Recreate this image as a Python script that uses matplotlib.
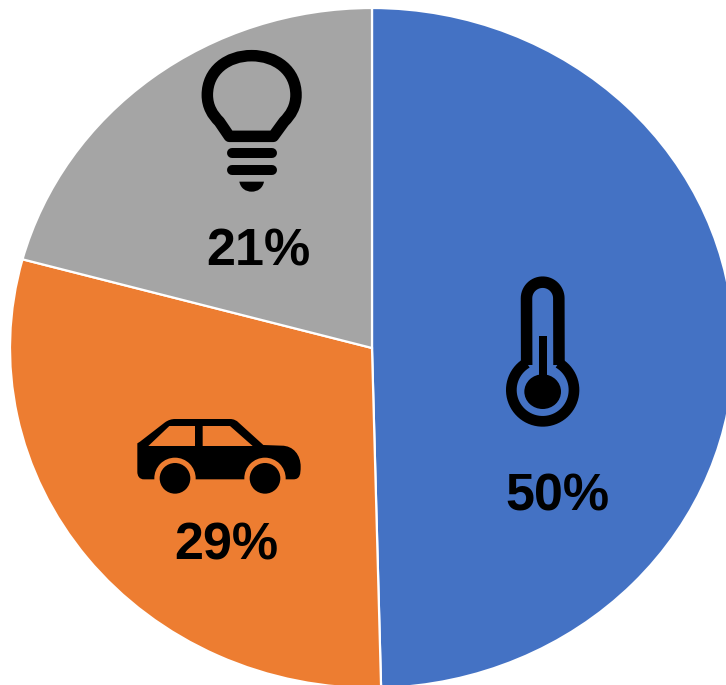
import numpy as np
import matplotlib
matplotlib.use('Agg')
import matplotlib.pyplot as plt
from matplotlib.patches import Circle, Ellipse, PathPatch, Polygon, Rectangle
from matplotlib.path import Path

shares = [49.6, 29.6, 20.8]
labels = ['50%', '29%', '21%']
colors = ['#4472C4', '#ED7D31', '#A5A5A5']

W, H = 726, 685
fig = plt.figure(figsize=(W / 100, H / 100), dpi=100)

# pie is a bit wider than tall and runs off the right and bottom edges
cx, cy, rx, ry = 372, 348, 362, 340
ax = fig.add_axes([(cx - rx) / W, (H - cy - ry) / H, 2 * rx / W, 2 * ry / H])
ax.pie(shares, colors=colors, startangle=90, counterclock=False, radius=1,
       wedgeprops={'edgecolor': 'white', 'linewidth': 1.6})
ax.set_aspect('auto')
ax.set_xlim(-1, 1)
ax.set_ylim(-1, 1)

# overlay in pixel coords for the icons and labels
ov = fig.add_axes([0, 0, 1, 1])
ov.set_xlim(0, W)
ov.set_ylim(H, 0)
ov.axis('off')
ov.patch.set_alpha(0)


def px(n):
    return n * 72 / 100


def z(x0, y0, pts):
    # points measured on 3x crops -> pixels
    return [(x0 + a / 3, y0 + b / 3) for a, b in pts]


M, L, C4, CL = Path.MOVETO, Path.LINETO, Path.CURVE4, Path.CLOSEPOLY

# bulb
bx, by = 190, 40
bulb = z(bx, by, [(118, 289), (250, 289), (282, 245), (302, 225), (318, 200), (318, 165),
                  (318, 92), (258, 47), (185, 47), (112, 47), (52, 92), (52, 165),
                  (52, 200), (68, 225), (88, 245), (118, 289), (118, 289)])
codes = [M, L, L, C4, C4, C4, C4, C4, C4, C4, C4, C4, C4, C4, C4, L, CL]
ov.add_patch(PathPatch(Path(bulb, codes), fc='none', ec='black', lw=px(11.5), joinstyle='round'))
for yy in (340, 390):
    p = z(bx, by, [(125, yy), (245, yy)])
    ov.plot(*zip(*p), color='black', lw=px(10), solid_capstyle='round')
cap = z(bx, by, [(148, 425), (222, 425), (218, 445), (203, 455), (185, 455),
                 (167, 455), (152, 445), (148, 425), (148, 425)])
ov.add_patch(PathPatch(Path(cap, [M, L, C4, C4, C4, C4, C4, C4, CL]), fc='black', ec='none'))

# car
ox, oy = 130, 410
body = z(ox, oy, [(22, 112), (22, 100), (30, 95), (105, 37), (115, 30), (125, 27), (135, 27),
                  (300, 27), (312, 27), (320, 32), (325, 37), (400, 105), (455, 107),
                  (490, 107), (512, 135), (512, 170), (512, 192), (510, 208), (490, 208),
                  (42, 208), (28, 208), (22, 198), (22, 185), (22, 112)])
body_codes = [M, L, L, L, C4, C4, C4, L, C4, C4, C4, L, L, C4, C4, C4, C4, C4, C4, L, C4, C4, C4, CL]
ov.add_patch(PathPatch(Path(body, body_codes), fc='black', ec='none'))
orange = colors[1]
for win in ([(55, 108), (118, 48), (195, 48), (195, 108)],
            [(218, 48), (300, 48), (368, 108), (218, 108)]):
    ov.add_patch(Polygon(z(ox, oy, win), closed=True, fc=orange, ec='none'))
for wx, wy in z(ox, oy, [(135, 205), (405, 205)]):
    ov.add_patch(Circle((wx, wy), 62 / 3, fc=orange, ec='none'))
    ov.add_patch(Circle((wx, wy), 46 / 3, fc='black', ec='none'))

# thermometer
tx, ty = 490, 270
top = [(158 + 48.5 * np.cos(a), 85 - 48.5 * np.sin(a)) for a in np.radians(np.linspace(180, 0, 30))]
stroke = z(tx, ty, [(110, 285)] + top + [(207, 285)])
ov.plot(*zip(*stroke), color='black', lw=px(11.5), solid_joinstyle='miter', solid_capstyle='butt')
# ring goes round the bottom of the bulb, open at the tube
t2 = np.radians(np.linspace(-239.4, 59.4, 60))
ring2 = z(tx, ty, [(158 + 94 * np.cos(a), 360 - 94 * np.sin(a)) for a in t2])
ov.plot(*zip(*ring2), color='black', lw=px(10.7), solid_capstyle='butt')
ov.add_patch(Rectangle((tx + 147 / 3, ty + 198 / 3), 23 / 3, 132 / 3, fc='black', ec='none'))
ov.add_patch(Ellipse((tx + 158 / 3, ty + 365 / 3), 110 / 3, 104 / 3, fc='black', ec='none'))

# labels
label_pos = [(557, 497), (226, 546), (258, 252)]
for (lx, ly), s in zip(label_pos, labels):
    ov.text(lx, ly, s, family='Liberation Sans', fontweight='bold', fontsize=37.5,
            ha='center', va='center', color='black')

fig.savefig('out.png', dpi=100)
